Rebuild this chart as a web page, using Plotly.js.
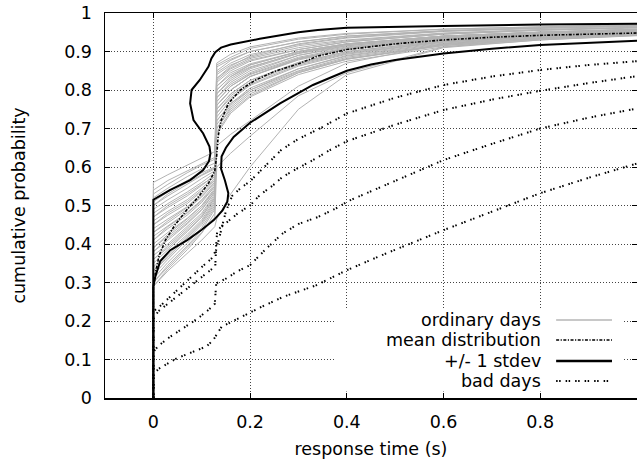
<!DOCTYPE html>
<html><head><meta charset="utf-8">
<script src="https://cdn.plot.ly/plotly-3.0.1.min.js"></script>
<style>html,body{margin:0;padding:0;overflow:hidden;background:#fff}</style>
</head><body><div id="chart" style="width:640px;height:464px"></div>
<script>
// response time (s) sample points shared by the ordinary-day curves
const ordinaryX = [0, 0, 0.03, 0.07, 0.10, 0.127, 0.131, 0.16, 0.20, 0.30, 0.40, 0.60, 0.80, 1.00];
// cumulative probability of each ordinary day at those points
const ordinaryDays = [
  [0,0.56,0.58,0.605,0.625,0.64,0.655,0.685,0.72,0.81,0.87,0.92,0.94,0.955],
  [0,0.54,0.565,0.59,0.61,0.625,0.83,0.862,0.888,0.92,0.937,0.953,0.961,0.966],
  [0,0.53,0.555,0.585,0.605,0.62,0.87,0.893,0.912,0.935,0.947,0.958,0.964,0.969],
  [0,0.52,0.545,0.575,0.595,0.61,0.85,0.877,0.9,0.925,0.94,0.954,0.961,0.967],
  [0,0.51,0.535,0.565,0.585,0.60,0.80,0.835,0.865,0.9,0.92,0.94,0.95,0.958],
  [0,0.50,0.525,0.555,0.578,0.595,0.82,0.85,0.875,0.905,0.925,0.945,0.955,0.962],
  [0,0.49,0.515,0.545,0.57,0.59,0.84,0.865,0.885,0.915,0.93,0.948,0.957,0.963],
  [0,0.48,0.505,0.535,0.56,0.585,0.78,0.815,0.845,0.89,0.915,0.938,0.948,0.955],
  [0,0.47,0.495,0.525,0.552,0.58,0.81,0.84,0.865,0.9,0.92,0.94,0.95,0.957],
  [0,0.46,0.485,0.515,0.545,0.575,0.76,0.80,0.835,0.88,0.905,0.93,0.943,0.952],
  [0,0.45,0.475,0.505,0.537,0.57,0.79,0.825,0.855,0.895,0.915,0.937,0.948,0.955],
  [0,0.44,0.465,0.497,0.53,0.565,0.825,0.855,0.878,0.905,0.925,0.945,0.955,0.961],
  [0,0.43,0.455,0.49,0.522,0.56,0.75,0.79,0.825,0.87,0.9,0.928,0.942,0.95],
  [0,0.42,0.447,0.482,0.515,0.555,0.77,0.81,0.842,0.885,0.91,0.935,0.946,0.954],
  [0,0.41,0.44,0.475,0.508,0.55,0.80,0.835,0.86,0.895,0.918,0.94,0.95,0.957],
  [0,0.40,0.43,0.467,0.50,0.545,0.74,0.78,0.815,0.865,0.895,0.925,0.94,0.949],
  [0,0.39,0.42,0.46,0.495,0.54,0.76,0.80,0.835,0.878,0.905,0.932,0.945,0.953],
  [0,0.38,0.41,0.452,0.488,0.535,0.78,0.82,0.85,0.89,0.912,0.936,0.947,0.955],
  [0,0.37,0.40,0.445,0.48,0.53,0.72,0.765,0.805,0.855,0.888,0.92,0.936,0.946],
  [0,0.36,0.395,0.44,0.475,0.525,0.75,0.79,0.825,0.872,0.9,0.928,0.942,0.951],
  [0,0.35,0.385,0.432,0.47,0.52,0.70,0.75,0.79,0.845,0.88,0.915,0.932,0.943],
  [0,0.34,0.378,0.425,0.463,0.515,0.73,0.775,0.812,0.862,0.893,0.924,0.939,0.948],
  [0,0.33,0.37,0.42,0.458,0.51,0.77,0.81,0.84,0.882,0.907,0.933,0.946,0.954],
  [0,0.32,0.36,0.41,0.45,0.50,0.71,0.76,0.80,0.85,0.885,0.918,0.935,0.945],
  [0,0.31,0.352,0.402,0.443,0.495,0.685,0.74,0.782,0.84,0.875,0.912,0.93,0.941],
  [0,0.30,0.345,0.395,0.436,0.49,0.74,0.785,0.82,0.868,0.897,0.926,0.94,0.95],
  [0,0.29,0.335,0.385,0.428,0.48,0.70,0.755,0.795,0.848,0.882,0.916,0.933,0.944],
  [0,0.29,0.33,0.375,0.41,0.445,0.465,0.53,0.60,0.75,0.84,0.91,0.93,0.942],
  [0,0.30,0.34,0.39,0.43,0.47,0.60,0.636,0.68,0.785,0.845,0.912,0.934,0.946],
  [0,0.47,0.50,0.53,0.555,0.575,0.86,0.88,0.9,0.925,0.94,0.954,0.962,0.967],
  [0,0.43,0.46,0.495,0.525,0.56,0.79,0.83,0.858,0.897,0.918,0.94,0.95,0.957],
  [0,0.36,0.39,0.435,0.47,0.52,0.81,0.845,0.868,0.9,0.92,0.94,0.951,0.958],
  [0,0.45,0.48,0.51,0.54,0.565,0.865,0.885,0.908,0.932,0.945,0.958,0.964,0.969],
  [0,0.39,0.425,0.465,0.50,0.54,0.845,0.87,0.892,0.918,0.935,0.952,0.96,0.966],
  [0,0.33,0.365,0.415,0.455,0.505,0.72,0.765,0.80,0.855,0.89,0.922,0.938,0.948],
  [0,0.41,0.445,0.48,0.512,0.55,0.69,0.745,0.785,0.845,0.88,0.918,0.935,0.946],
  [0,0.50,0.53,0.56,0.58,0.598,0.76,0.80,0.835,0.882,0.908,0.935,0.947,0.955],
  [0,0.38,0.415,0.455,0.49,0.535,0.83,0.858,0.882,0.91,0.928,0.947,0.957,0.963]
];

const meanX = [0,0,0.005,0.012,0.025,0.045,0.07,0.095,0.115,0.127,0.131,0.134,0.14,0.155,0.18,0.21,0.25,0.30,0.34,0.40,0.50,0.60,0.70,0.80,0.90,1.00];
const meanY = [0,0.29,0.33,0.37,0.41,0.45,0.49,0.525,0.56,0.59,0.63,0.68,0.72,0.765,0.80,0.825,0.848,0.868,0.888,0.905,0.92,0.93,0.937,0.942,0.945,0.948];

const upperX = [0,0,0.034,0.076,0.103,0.115,0.118,0.116,0.103,0.083,0.076,0.079,0.096,0.114,0.12,0.128,0.14,0.16,0.22,0.30,0.34,0.40,0.60,0.80,1.00];
const upperY = [0,0.515,0.54,0.566,0.592,0.615,0.635,0.653,0.687,0.722,0.765,0.80,0.826,0.861,0.882,0.898,0.91,0.918,0.933,0.95,0.956,0.962,0.966,0.97,0.972];

const lowerX = [0,0,0.004,0.014,0.035,0.07,0.10,0.125,0.143,0.153,0.155,0.148,0.14,0.141,0.15,0.166,0.20,0.262,0.33,0.40,0.45,0.50,0.60,0.70,0.80,0.90,1.00];
const lowerY = [0,0.29,0.315,0.355,0.384,0.41,0.437,0.462,0.487,0.51,0.532,0.565,0.595,0.627,0.65,0.678,0.715,0.765,0.813,0.85,0.866,0.878,0.895,0.907,0.917,0.923,0.928];

const bad1X = [0,0,0.015,0.04,0.07,0.10,0.12,0.13,0.14,0.15,0.163,0.18,0.20,0.217,0.234,0.25,0.265,0.30,0.344,0.40,0.50,0.60,0.70,0.80,0.90,1.00];
const bad1Y = [0,0.225,0.24,0.27,0.305,0.34,0.362,0.385,0.435,0.485,0.525,0.545,0.563,0.584,0.605,0.627,0.645,0.673,0.70,0.739,0.78,0.813,0.835,0.852,0.865,0.875];
const bad2X = [0,0,0.01,0.03,0.06,0.09,0.115,0.128,0.13,0.132,0.141,0.158,0.175,0.20,0.22,0.248,0.268,0.303,0.33,0.365,0.40,0.50,0.60,0.70,0.80,0.90,1.00];
const bad2Y = [0,0.205,0.225,0.245,0.275,0.305,0.33,0.342,0.40,0.435,0.445,0.462,0.48,0.50,0.527,0.553,0.575,0.60,0.618,0.644,0.667,0.71,0.748,0.775,0.798,0.818,0.836];
const bad3X = [0,0,0.01,0.03,0.06,0.09,0.115,0.127,0.13,0.15,0.175,0.20,0.21,0.235,0.268,0.30,0.34,0.385,0.40,0.50,0.60,0.70,0.80,0.90,1.00];
const bad3Y = [0,0.12,0.135,0.155,0.18,0.205,0.23,0.245,0.298,0.31,0.33,0.345,0.358,0.39,0.428,0.452,0.47,0.497,0.51,0.565,0.618,0.66,0.70,0.728,0.752];
const bad4X = [0,0,0.01,0.048,0.086,0.11,0.124,0.133,0.141,0.162,0.203,0.224,0.269,0.337,0.40,0.482,0.60,0.70,0.80,0.90,1.00];
const bad4Y = [0,0.06,0.075,0.103,0.122,0.134,0.151,0.168,0.185,0.198,0.224,0.237,0.263,0.293,0.332,0.376,0.436,0.485,0.532,0.572,0.609];

const xTicks = [0,0.2,0.4,0.6,0.8,1];
const xTickText = ['0','0.2','0.4','0.6','0.8','1'];
const yTicks = [0,0.1,0.2,0.3,0.4,0.5,0.6,0.7,0.8,0.9,1];
const yTickText = ['0','0.1','0.2','0.3','0.4','0.5','0.6','0.7','0.8','0.9','1'];
const legendLabels = ['ordinary days','mean distribution','+/- 1 stdev','bad days'];

const GRAY = '#b3b3b3';
const MEAN_DASH = '3px,1.5px,1.2px,1.5px';
const BAD_DASH = '1.5px,1.5px,1.5px,5px';
const FONT = {family:'DejaVu Sans, sans-serif', size:17.5, color:'#000'};

const traces = [];
ordinaryDays.forEach(ys => traces.push({x: ordinaryX, y: ys, type:'scatter', mode:'lines', line:{color:GRAY, width:1}, hoverinfo:'skip'}));
[[bad1X,bad1Y],[bad2X,bad2Y],[bad3X,bad3Y],[bad4X,bad4Y]].forEach(([xs,ys]) =>
  traces.push({x:xs, y:ys, type:'scatter', mode:'lines', line:{color:'#000', width:2, dash:BAD_DASH}}));
traces.push({x:meanX, y:meanY, type:'scatter', mode:'lines', line:{color:'#000', width:1.6, dash:MEAN_DASH}});
traces.push({x:upperX, y:upperY, type:'scatter', mode:'lines', line:{color:'#000', width:2}});
traces.push({x:lowerX, y:lowerY, type:'scatter', mode:'lines', line:{color:'#000', width:2}});

// custom key (text right-aligned, sample on the right)
const keyY = [0.2026, 0.1506, 0.0961, 0.0442];
const keyStyles = [
  {color:'#c8c8c8', width:2.2},
  {color:'#000', width:1.6, dash:MEAN_DASH},
  {color:'#000', width:2.4},
  {color:'#000', width:2, dash:BAD_DASH}
];
const shapes = [{type:'rect', xref:'paper', yref:'paper', x0:0.4315, x1:0.9756, y0:0.017, y1:0.2338, fillcolor:'#fff', line:{width:0}, layer:'above'}];
const annotations = [];
legendLabels.forEach((t,i) => {
  annotations.push({text:t, xref:'paper', yref:'paper', x:0.8236, y:keyY[i], xanchor:'right', yanchor:'middle', showarrow:false, font:FONT});
  shapes.push({type:'line', xref:'paper', yref:'paper', x0:0.848, x1:0.953, y0:keyY[i], y1:keyY[i], line:keyStyles[i], layer:'above'});
});

const axisCommon = {
  showline:true, mirror:'ticks', linecolor:'#000', linewidth:1.5,
  ticks:'inside', ticklen:5, tickwidth:1, tickcolor:'#000',
  showgrid:true, gridcolor:'#444', griddash:'1px,2px', gridwidth:1,
  zeroline:false, tickfont:FONT
};

const layout = {
  width:640, height:464,
  margin:{l:105, r:1, t:13, b:66},
  paper_bgcolor:'#fff', plot_bgcolor:'#fff',
  showlegend:false,
  font:FONT,
  xaxis: Object.assign({}, axisCommon, {
    automargin:false,
    range:[-0.1, 1.0], tickmode:'array', tickvals:xTicks, ticktext:xTickText,
    ticklabelstandoff:7,
    title:{text:'response time (s)', font:FONT, standoff:12}
  }),
  yaxis: Object.assign({}, axisCommon, {
    automargin:true,
    range:[0, 1], tickmode:'array', tickvals:yTicks, ticktext:yTickText,
    ticklabelstandoff:8,
    title:{text:'cumulative probability', font:FONT, standoff:34}
  }),
  shapes: shapes,
  annotations: annotations
};

Plotly.newPlot('chart', traces, layout, {displayModeBar:false, staticPlot:true});
</script></body></html>
